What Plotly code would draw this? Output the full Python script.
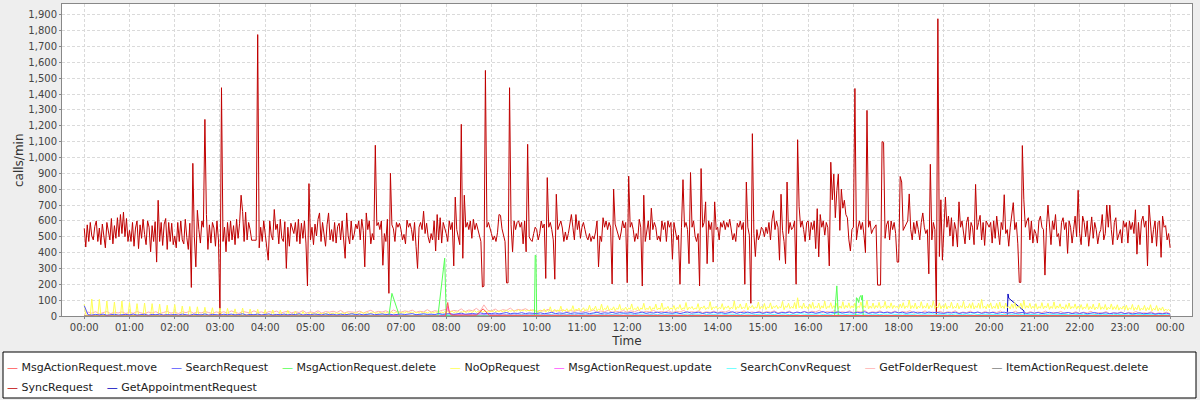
import pandas as pd
import plotly.graph_objects as go

BASE = pd.Timestamp("2013-01-01 00:00")

# ---------------- SyncRequest, one value every 2 minutes (per hour rows) --------
sync_00 = [553, 435, 575, 470, 590, 505, 480, 565, 600, 470, 555, 450, 580, 505, 430,
           590, 540, 480, 615, 455, 570, 490, 620, 500, 640, 520, 655, 500, 615, 470]
sync_01 = [540, 470, 590, 440, 555, 600, 425, 575, 490, 610, 515, 450, 600, 560, 405,
           570, 470, 595, 340, 730, 470, 590, 445, 580, 615, 420, 590, 470, 585, 450]
sync_02 = [505, 430, 590, 470, 600, 480, 455, 610, 495, 420, 585, 180, 963, 500, 310,
           667, 545, 460, 600, 560, 1240, 640, 420, 575, 460, 590, 555, 440, 600, 480]
sync_03 = [0, 1440, 470, 560, 405, 590, 470, 600, 480, 570, 450, 610, 490, 585, 762,
           660, 470, 655, 480, 590, 545, 478, 478, 478, 478, 1775, 430, 560, 470, 600]
sync_04 = [520, 460, 352, 600, 510, 480, 672, 545, 580, 455, 610, 490, 470, 595, 300,
           560, 440, 585, 550, 520, 590, 470, 610, 455, 585, 490, 600, 460, 190, 835]
sync_05 = [480, 560, 450, 580, 505, 610, 650, 470, 590, 500, 440, 575, 650, 480, 545,
           470, 590, 460, 565, 585, 480, 600, 455, 364, 650, 505, 455, 600, 480, 515]
sync_06 = [580, 550, 600, 480, 610, 540, 310, 650, 545, 600, 455, 520, 480, 1077, 570,
           590, 545, 600, 320, 520, 470, 610, 143, 900, 575, 550, 470, 590, 560, 585]
sync_07 = [545, 480, 515, 455, 605, 560, 585, 545, 475, 590, 440, 300, 560, 590, 545,
           661, 520, 585, 500, 460, 520, 480, 600, 410, 640, 480, 620, 460, 590, 560]
sync_08 = [520, 470, 600, 545, 590, 316, 750, 545, 500, 450, 1209, 364, 762, 560, 590,
           545, 600, 490, 610, 545, 585, 540, 500, 470, 183, 188, 1549, 560, 590, 545]
sync_09 = [520, 480, 505, 470, 525, 640, 635, 550, 510, 470, 209, 209, 1440, 575, 405,
           600, 545, 590, 600, 560, 590, 455, 600, 405, 1083, 500, 480, 470, 520, 560]
sync_10 = [545, 480, 520, 600, 555, 580, 237, 873, 560, 590, 545, 480, 232, 768, 545,
           580, 600, 555, 470, 530, 480, 520, 570, 640, 560, 480, 640, 545, 600, 490]
sync_11 = [560, 590, 545, 500, 480, 520, 470, 505, 485, 530, 600, 310, 505, 470, 620,
           560, 600, 545, 590, 560, 202, 800, 580, 545, 505, 480, 530, 600, 555, 590]
sync_12 = [210, 882, 560, 590, 545, 470, 520, 485, 610, 560, 189, 762, 470, 545, 600,
           480, 680, 545, 590, 560, 480, 505, 470, 600, 545, 590, 470, 600, 560, 590]
sync_13 = [358, 590, 545, 480, 510, 200, 560, 860, 560, 590, 545, 330, 905, 560, 600,
           505, 470, 520, 190, 930, 560, 590, 720, 330, 600, 545, 590, 340, 720, 545]
sync_14 = [560, 480, 590, 560, 600, 545, 590, 560, 610, 545, 480, 520, 470, 585, 560,
           600, 545, 590, 200, 845, 560, 510, 80, 1150, 520, 375, 545, 480, 510, 560]
sync_15 = [545, 500, 560, 520, 590, 480, 605, 665, 545, 600, 560, 352, 768, 540, 470,
           330, 845, 520, 590, 545, 560, 600, 200, 1112, 690, 560, 600, 545, 470, 590]
sync_16 = [600, 480, 590, 545, 600, 425, 677, 373, 640, 560, 600, 510, 590, 560, 316,
           970, 733, 895, 620, 790, 895, 540, 800, 680, 730, 640, 620, 480, 410, 545]
sync_17 = [560, 1435, 480, 555, 600, 545, 590, 510, 400, 1297, 560, 600, 520, 545, 560,
           575, 195, 195, 195, 1100, 1095, 490, 575, 600, 480, 600, 545, 590, 520, 340]
sync_18 = [340, 880, 845, 540, 560, 590, 600, 770, 545, 480, 590, 520, 600, 545, 480,
           590, 650, 560, 520, 545, 266, 957, 480, 590, 545, 10, 1875, 375, 733, 352]
sync_19 = [545, 750, 560, 630, 505, 620, 440, 590, 545, 435, 720, 560, 600, 505, 455,
           590, 625, 480, 590, 560, 450, 830, 545, 590, 635, 480, 590, 445, 600, 580]
sync_20 = [560, 590, 460, 600, 490, 630, 520, 450, 590, 545, 765, 520, 545, 440, 560,
           640, 715, 545, 590, 455, 212, 212, 1075, 733, 560, 600, 620, 480, 600, 460]
sync_21 = [545, 520, 460, 600, 630, 560, 545, 258, 560, 700, 590, 450, 600, 545, 640,
           500, 520, 440, 590, 620, 545, 590, 395, 600, 560, 460, 545, 630, 500, 793]
sync_22 = [520, 450, 630, 590, 500, 600, 440, 560, 625, 490, 590, 545, 455, 520, 545,
           640, 480, 520, 700, 560, 700, 545, 450, 590, 620, 480, 520, 545, 460, 600]
sync_23 = [560, 590, 460, 600, 545, 590, 520, 670, 390, 590, 450, 600, 630, 560, 600,
           316, 700, 560, 460, 545, 600, 440, 590, 600, 370, 630, 560, 570, 480, 520]
sync_end = 430
sync_hours = [sync_00, sync_01, sync_02, sync_03, sync_04, sync_05, sync_06, sync_07, sync_08, sync_09,
              sync_10, sync_11, sync_12, sync_13, sync_14, sync_15, sync_16, sync_17, sync_18, sync_19,
              sync_20, sync_21, sync_22, sync_23]

# ---------------- NoOpRequest, one value every 2 minutes -----------------------
noop_values = [
    75, 10, 4, 3, 5, 107, 6, 3, 4, 2, 105, 5, 3, 4, 6, 95, 4, 3, 5, 2, 88, 6, 4, 3, 5, 95, 3, 4, 6, 2,
    85, 5, 3, 4, 2, 78, 6, 3, 5, 4, 82, 3, 4, 2, 5, 78, 4, 6, 3, 5, 75, 3, 4, 6, 2, 68, 5, 3, 4, 6,
    72, 4, 3, 5, 8, 63, 6, 4, 3, 5, 60, 4, 7, 3, 5, 58, 6, 4, 8, 3, 55, 5, 4, 6, 9, 52, 4, 6, 3, 5,
    50, 6, 4, 8, 5, 48, 7, 5, 4, 9, 45, 6, 4, 8, 5, 50, 5, 9, 6, 4, 44, 8, 5, 7, 4, 42, 6, 9, 5, 7,
    40, 8, 5, 10, 6, 38, 7, 12, 5, 8, 36, 9, 6, 12, 8, 35, 10, 7, 14, 6, 30, 12, 9, 15, 8, 28, 11, 14, 9, 16,
    22, 12, 18, 10, 15, 24, 13, 18, 11, 20, 14, 17, 22, 12, 16, 19, 13, 21, 15, 18, 12, 20, 16, 14, 22, 17, 13, 19, 15, 21,
    16, 22, 14, 19, 25, 15, 20, 17, 23, 14, 21, 18, 26, 15, 20, 17, 24, 19, 16, 22, 18, 25, 15, 21, 27, 17, 20, 23, 16, 24,
    19, 25, 17, 22, 28, 18, 21, 24, 17, 26, 20, 23, 18, 27, 21, 19, 25, 22, 18, 28, 20, 24, 19, 26, 22, 30, 20, 25, 21, 27,
    22, 28, 20, 25, 31, 21, 26, 23, 29, 22, 27, 24, 32, 21, 28, 25, 30, 23, 27, 34, 22, 29, 25, 31, 24, 28, 33, 25, 30, 26,
    32, 27, 35, 25, 30, 28, 36, 26, 31, 29, 38, 27, 33, 30, 36, 28, 34, 31, 40, 29, 35, 32, 38, 30, 36, 33, 41, 31, 37, 34,
    30, 22, 38, 25, 33, 45, 24, 36, 28, 58, 26, 35, 42, 25, 39, 30, 62, 27, 37, 32, 46, 28, 40, 34, 65, 30, 43, 36, 50, 31,
    38, 52, 32, 45, 36, 68, 33, 47, 40, 62, 32, 44, 37, 75, 34, 48, 41, 65, 35, 46, 38, 58, 33, 49, 42, 73, 36, 47, 39, 56,
    35, 51, 42, 76, 36, 48, 40, 59, 34, 50, 43, 80, 37, 49, 41, 62, 33, 52, 44, 75, 38, 50, 42, 82, 36, 53, 45, 61, 39, 51,
    42, 66, 36, 54, 46, 72, 38, 52, 44, 85, 37, 55, 47, 60, 40, 50, 45, 78, 36, 56, 48, 64, 41, 53, 46, 90, 38, 57, 49, 62,
    43, 54, 46, 78, 39, 58, 50, 64, 42, 55, 47, 95, 40, 59, 51, 76, 44, 56, 48, 82, 38, 60, 52, 67, 45, 57, 50, 88, 43, 61,
    47, 79, 41, 58, 51, 83, 44, 62, 53, 68, 46, 59, 52, 92, 40, 63, 54, 80, 47, 60, 49, 85, 45, 115, 52, 64, 46, 82, 50, 61,
    44, 76, 49, 86, 46, 62, 52, 82, 43, 64, 50, 94, 45, 61, 53, 84, 47, 65, 51, 80, 44, 63, 49, 90, 46, 67, 52, 83, 48, 64,
    50, 81, 45, 62, 53, 88, 47, 65, 51, 98, 44, 63, 49, 82, 46, 66, 52, 86, 48, 61, 54, 92, 46, 64, 50, 83, 47, 67, 53, 62,
    45, 75, 51, 84, 47, 63, 54, 100, 46, 66, 49, 82, 44, 62, 52, 90, 48, 64, 50, 81, 45, 67, 53, 95, 47, 62, 51, 83, 46, 65,
    49, 80, 44, 63, 52, 87, 47, 61, 50, 82, 45, 65, 53, 92, 46, 62, 51, 78, 48, 84, 44, 64, 52, 81, 47, 105, 49, 63, 45, 76,
    51, 83, 46, 62, 49, 80, 44, 88, 50, 64, 47, 82, 52, 61, 45, 76, 49, 85, 46, 63, 51, 81, 44, 98, 48, 65, 50, 80, 46, 62,
    47, 78, 43, 60, 49, 84, 45, 63, 51, 80, 42, 61, 48, 89, 44, 64, 50, 77, 46, 58, 41, 72, 47, 82, 44, 60, 49, 76, 43, 63,
    45, 72, 41, 57, 47, 78, 40, 60, 44, 75, 39, 56, 46, 82, 41, 58, 43, 73, 38, 55, 44, 76, 40, 59, 42, 71, 37, 54, 43, 63,
    39, 68, 36, 52, 42, 73, 35, 54, 40, 70, 34, 50, 39, 67, 33, 53, 38, 71, 32, 49, 37, 66, 31, 51, 36, 57, 30, 44, 34, 42,
    30]

# ---------------- 5-minute series -------------------------------------------
search_values = [
    65, 8, 6, 10, 7, 12, 5, 9, 11, 6, 8, 10,
    7, 12, 6, 9, 11, 5, 10, 8, 12, 6, 9, 7,
    10, 6, 12, 8, 5, 11, 9, 7, 13, 6, 10, 8,
    6, 11, 8, 12, 7, 9, 14, 6, 10, 8, 12, 7,
    9, 13, 6, 10, 8, 12, 7, 11, 9, 14, 6, 10,
    8, 12, 10, 7, 13, 9, 11, 6, 12, 8, 10, 14,
    9, 12, 7, 11, 14, 8, 10, 13, 9, 12, 7, 11,
    13, 9, 12, 15, 8, 11, 14, 10, 12, 9, 16, 11,
    12, 15, 10, 14, 18, 11, 13, 16, 12, 20, 14, 17,
    15, 19, 13, 17, 22, 14, 18, 16, 21, 15, 19, 17,
    16, 20, 14, 18, 23, 15, 19, 17, 22, 16, 20, 18,
    17, 21, 15, 19, 24, 16, 20, 18, 23, 17, 21, 19,
    18, 22, 16, 20, 25, 17, 21, 19, 24, 18, 22, 20,
    17, 23, 15, 21, 26, 18, 20, 24, 16, 22, 19, 25,
    18, 22, 16, 21, 27, 17, 23, 19, 25, 18, 21, 24,
    17, 23, 19, 26, 16, 22, 20, 25, 18, 24, 21, 27,
    19, 24, 17, 22, 28, 18, 23, 20, 26, 19, 22, 25,
    18, 23, 20, 27, 17, 22, 19, 25, 21, 24, 18, 26,
    20, 24, 17, 23, 26, 19, 22, 18, 25, 21, 23, 19,
    17, 22, 19, 24, 16, 21, 18, 23, 20, 25, 17, 22,
    19, 23, 16, 21, 24, 18, 22, 17, 20, 23, 16, 21,
    18, 22, 15, 20, 23, 17, 21, 16, 19, 22, 15, 20,
    16, 21, 14, 19, 22, 15, 18, 20, 14, 19, 17, 21,
    15, 19, 13, 18, 20, 14, 17, 19, 12, 16, 14, 18,
    12]

getfolder_values = [
    12, 25, 18, 27, 14, 22, 28, 15, 24, 19, 26, 16,
    23, 17, 28, 20, 14, 25, 19, 27, 15, 22, 29, 18,
    24, 16, 27, 21, 30, 17, 25, 19, 28, 22, 15, 26,
    20, 27, 18, 32, 22, 16, 29, 24, 19, 33, 21, 26,
    18, 28, 23, 31, 17, 25, 30, 20, 27, 22, 34, 19,
    26, 21, 33, 18, 28, 24, 30, 22, 35, 20, 27, 25,
    23, 31, 19, 28, 36, 22, 29, 25, 33, 21, 38, 27,
    24, 32, 28, 37, 23, 30, 26, 40, 25, 33, 29, 36,
    42, 28, 35, 31, 45, 27, 38, 33, 48, 30, 70, 36,
    32, 44, 29, 40, 35, 50, 31, 42, 37, 46, 33, 39,
    28, 36, 31, 42, 27, 35, 30, 39, 26, 34, 29, 37,
    25, 33, 28, 38, 24, 31, 27, 36, 23, 30, 26, 34,
    24, 32, 27, 37, 22, 30, 26, 35, 23, 29, 25, 33,
    22, 30, 26, 35, 21, 28, 24, 33, 20, 27, 23, 31,
    21, 29, 25, 34, 20, 27, 23, 32, 19, 26, 22, 30,
    20, 28, 24, 33, 19, 26, 22, 31, 18, 25, 21, 29,
    22, 30, 26, 36, 20, 28, 24, 34, 21, 27, 23, 32,
    21, 29, 25, 35, 19, 27, 23, 33, 20, 26, 22, 31,
    20, 28, 24, 34, 18, 26, 22, 32, 19, 25, 21, 30,
    19, 27, 23, 33, 17, 25, 21, 31, 18, 24, 20, 29,
    18, 26, 22, 32, 16, 24, 20, 30, 17, 23, 19, 28,
    17, 25, 21, 31, 15, 23, 19, 29, 16, 22, 18, 27,
    16, 24, 20, 30, 14, 22, 18, 28, 15, 21, 17, 26,
    15, 23, 19, 29, 13, 21, 17, 27, 14, 20, 16, 25,
    14]

searchconv_values = [
    2, 4, 3, 5, 2, 6, 3, 4, 5, 2, 4, 3,
    3, 5, 2, 4, 6, 3, 5, 2, 4, 3, 6, 4,
    5, 3, 6, 2, 4, 5, 3, 7, 4, 2, 5, 3,
    4, 6, 3, 5, 2, 7, 4, 3, 6, 5, 3, 4,
    6, 3, 5, 4, 7, 3, 5, 6, 4, 8, 3, 5,
    4, 7, 5, 3, 6, 8, 4, 5, 7, 3, 6, 5,
    7, 4, 6, 8, 5, 3, 7, 6, 4, 9, 5, 6,
    5, 8, 6, 4, 7, 9, 5, 6, 8, 4, 7, 10,
    8, 6, 11, 7, 9, 5, 10, 8, 12, 6, 9, 7,
    10, 8, 12, 6, 11, 9, 13, 7, 10, 8, 12, 9,
    11, 7, 13, 9, 10, 14, 8, 12, 9, 11, 7, 13,
    9, 12, 8, 14, 10, 11, 7, 13, 9, 12, 10, 15,
    10, 13, 8, 12, 11, 14, 9, 12, 8, 13, 10, 11,
    12, 9, 14, 10, 13, 8, 12, 11, 15, 9, 12, 10,
    11, 14, 9, 13, 10, 12, 8, 14, 11, 13, 9, 12,
    13, 10, 12, 9, 14, 11, 13, 8, 12, 10, 15, 11,
    10, 13, 11, 14, 9, 12, 10, 16, 11, 13, 9, 12,
    12, 9, 14, 11, 13, 10, 12, 8, 13, 11, 14, 10,
    11, 13, 9, 12, 10, 14, 11, 12, 9, 13, 10, 12,
    10, 12, 8, 13, 11, 9, 12, 10, 14, 9, 11, 10,
    9, 12, 10, 11, 8, 13, 10, 12, 9, 11, 10, 12,
    10, 8, 12, 9, 11, 10, 13, 8, 11, 9, 12, 10,
    8, 11, 9, 12, 10, 8, 11, 9, 13, 8, 10, 9,
    9, 7, 11, 8, 10, 9, 12, 7, 10, 8, 9, 8,
    7]

# ---------------- 10-minute series ------------------------------------------
itemdelete_values = [
    0, 1, 0, 0, 2, 0, 1, 0, 0, 1, 0, 0, 0, 2, 1, 0, 0, 1, 1, 0, 0, 2, 0, 1,
    0, 1, 2, 0, 0, 1, 1, 0, 1, 0, 2, 0, 0, 2, 0, 1, 0, 1, 1, 0, 2, 0, 1, 0,
    2, 1, 0, 1, 3, 0, 1, 2, 0, 1, 0, 2, 0, 1, 2, 0, 1, 3, 2, 0, 1, 2, 0, 1,
    1, 2, 0, 3, 1, 0, 2, 1, 0, 2, 1, 3, 0, 2, 1, 0, 3, 1, 2, 0, 1, 2, 0, 1,
    1, 0, 2, 1, 3, 0, 2, 1, 0, 2, 1, 0, 1, 2, 0, 1, 0, 2, 1, 0, 1, 0, 2, 0,
    1, 0, 2, 0, 1, 0, 0, 1, 0, 2, 0, 1, 0, 1, 0, 0, 1, 0, 1, 0, 0, 1, 0, 0,
    0]

# ---------------- sparse series (time, value) --------------------------------
move_times = ["00:00", "07:59", "08:02", "08:04", "08:07", "08:40", "08:49", "08:57", "24:00"]
move_values = [0, 0, 85, 25, 5, 5, 45, 4, 2]

update_times = ["00:00", "07:59", "08:02", "08:05", "09:40", "12:10", "15:30", "18:40", "24:00"]
update_values = [0, 0, 60, 8, 5, 4, 6, 3, 0]

delete_times = ["00:00", "06:44", "06:48", "06:58", "07:49", "07:58", "08:00", "09:57", "09:58", "09:59",
                "10:00", "16:35", "16:38", "16:40", "17:03", "17:04", "17:05", "17:07", "17:08", "17:10",
                "17:11", "17:12", "17:13", "24:00"]
delete_values = [0, 0, 143, 0, 0, 365, 0, 0, 384, 380,
                 0, 0, 190, 0, 0, 115, 112, 85, 115, 130,
                 100, 130, 0, 0]

appt_times = ["00:00", "20:24", "20:25", "20:26", "20:46", "20:47", "24:00"]
appt_values = [0, 0, 139, 112, 33, 0, 0]

Y_TICK_STEP = 100


# ---------------- helpers -----------------------------------------------------
def grid_times(n, step_min):
    return [BASE + pd.Timedelta(minutes=step_min * i) for i in range(n)]


def clock_times(labels):
    out = []
    for s in labels:
        hh, mm = s.split(":")
        out.append(BASE + pd.Timedelta(minutes=int(hh) * 60 + int(mm)))
    return out


sync_x, sync_y = [], []
for h, row in enumerate(sync_hours):
    for j, v in enumerate(row):
        sync_x.append(BASE + pd.Timedelta(minutes=h * 60 + 2 * j))
        sync_y.append(v)
sync_x.append(BASE + pd.Timedelta(hours=24))
sync_y.append(sync_end)

series = [
    ("MsgActionRequest.move", "#FF5555", clock_times(move_times), move_values),
    ("SearchRequest", "#5555FF", grid_times(len(search_values), 5), search_values),
    ("MsgActionRequest.delete", "#55FF55", clock_times(delete_times), delete_values),
    ("NoOpRequest", "#FFFF55", grid_times(len(noop_values), 2), noop_values),
    ("MsgActionRequest.update", "#FF55FF", clock_times(update_times), update_values),
    ("SearchConvRequest", "#55FFFF", grid_times(len(searchconv_values), 5), searchconv_values),
    ("GetFolderRequest", "#FFAFAF", grid_times(len(getfolder_values), 5), getfolder_values),
    ("ItemActionRequest.delete", "#808080", grid_times(len(itemdelete_values), 10), itemdelete_values),
    ("SyncRequest", "#C00000", sync_x, sync_y),
    ("GetAppointmentRequest", "#0000C0", clock_times(appt_times), appt_values),
]

fig = go.Figure()
# JFreeChart renders series in reverse order (first series on top)
for name, color, xs, ys in reversed(series):
    fig.add_trace(go.Scatter(x=xs, y=ys, mode="lines", name=name,
                             line=dict(color=color, width=1), showlegend=False,
                             hoverinfo="skip"))

# ---------------- layout ------------------------------------------------------
W, H = 1200, 400
L, R, T, B = 62, 8, 4, 84
pw, ph = W - L - R, H - T - B


def px_x(x):
    return (x - L) / pw


def px_y(y):
    return (H - B - y) / ph


FONT = "DejaVu Sans"

NBSP = "\u00a0"
GAP = NBSP * 4
items = [f'<span style="color:{c}">\u2014</span>{NBSP}{n}' for n, c, _, _ in series]
row1 = GAP.join(items[:8])
row2 = GAP.join(items[8:])

GRID = "#DADADA"

fig.update_layout(
    width=W, height=H,
    margin=dict(l=L, r=R, t=T, b=B, autoexpand=False),
    paper_bgcolor="#EEEEEE",
    plot_bgcolor="#FFFFFF",
    font=dict(family=FONT, size=11, color="#333333"),
    showlegend=False,
    xaxis=dict(
        type="date",
        range=[BASE - pd.Timedelta(minutes=29.5), BASE + pd.Timedelta(hours=24, minutes=29)],
        tick0=BASE, dtick=3600000, tickformat="%H:%M",
        ticks="outside", ticklen=2, tickcolor="#888888",
        tickfont=dict(family=FONT, size=10, color="#444444"),
        showgrid=True, gridcolor=GRID, griddash="3px,2px", gridwidth=1,
        showline=True, linecolor="#888888", linewidth=1, mirror=True,
        zeroline=False, automargin=False,
        title=dict(text="Time", font=dict(family=FONT, size=12, color="#333333"), standoff=4),
    ),
    yaxis=dict(
        range=[0, 1968], dtick=Y_TICK_STEP, tick0=0, tickformat=",d",
        ticks="outside", ticklen=2, tickcolor="#888888",
        tickfont=dict(family=FONT, size=10, color="#444444"),
        showgrid=True, gridcolor=GRID, griddash="3px,2px", gridwidth=1,
        showline=True, linecolor="#888888", linewidth=1, mirror=True,
        zeroline=False, automargin=False,
    ),
    shapes=[dict(type="rect", xref="paper", yref="paper",
                 x0=px_x(3), x1=px_x(1196), y0=px_y(398), y1=px_y(352),
                 line=dict(color="#000000", width=1), fillcolor="#FFFFFF", layer="below")],
    annotations=[
        dict(text="calls/min", textangle=-90, xref="paper", yref="paper",
             x=px_x(19), y=0.5, xanchor="center", yanchor="middle", showarrow=False,
             font=dict(family=FONT, size=12, color="#333333")),
        dict(text=row1, xref="paper", yref="paper", x=px_x(5), y=px_y(367),
             xanchor="left", yanchor="middle", showarrow=False,
             font=dict(family=FONT, size=11, color="#222222")),
        dict(text=row2, xref="paper", yref="paper", x=px_x(5), y=px_y(387),
             xanchor="left", yanchor="middle", showarrow=False,
             font=dict(family=FONT, size=11, color="#222222")),
    ],
)

fig.write_html("out.html", config={"displayModeBar": False},
               post_script="document.body.style.margin='0px';")
